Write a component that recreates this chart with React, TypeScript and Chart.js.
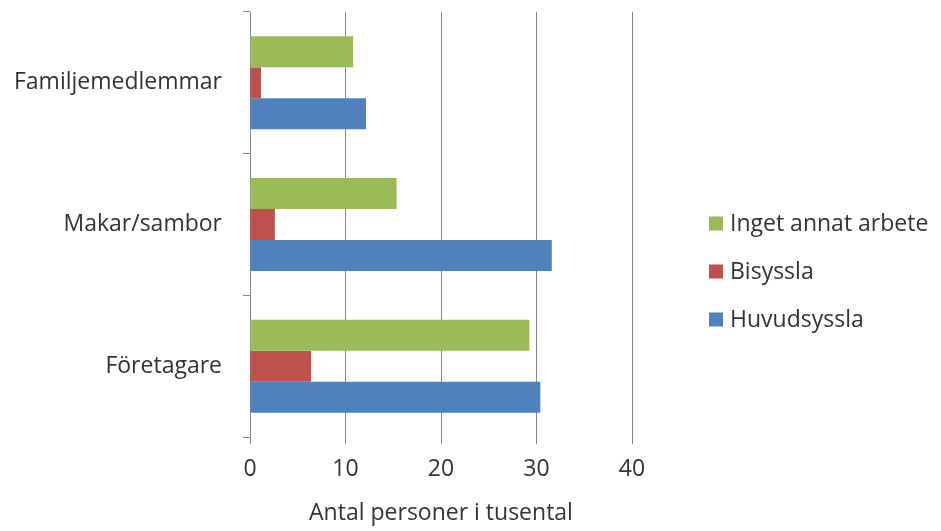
import { useEffect, useRef } from 'react';
import { Chart, registerables } from 'chart.js';

Chart.register(...registerables);

const categories = ['Familjemedlemmar', 'Makar/sambor', 'Företagare'];
const seriesNames = ['Inget annat arbete', 'Bisyssla', 'Huvudsyssla'];
const ingetAnnatArbete = [10.8, 15.35, 29.25];
const bisyssla = [1.15, 2.6, 6.4];
const huvudsyssla = [12.15, 31.6, 30.4];
const seriesColors = ['#9BBB59', '#C0504D', '#4F81BD'];
const xTicks = [0, 10, 20, 30, 40];
const xTitle = 'Antal personer i tusental';

const FONT = '"Open Sans", sans-serif';
const FS = 23;
const TEXT = '#333333';
const GRID = '#868686';

const legendPlugin = {
  id: 'sideLegend',
  afterDraw(chart: any) {
    const { ctx, chartArea } = chart;
    const boxX = chartArea.right + 77;
    const centerY = chart.height / 2 + 6;
    ctx.save();
    chart.data.datasets.forEach((ds: any, i: number) => {
      const y = centerY + (i - 1) * 48;
      ctx.fillStyle = ds.backgroundColor;
      ctx.fillRect(boxX, y - 7, 14, 14);
      ctx.fillStyle = TEXT;
      ctx.font = `${FS}px ${FONT}`;
      ctx.textBaseline = 'middle';
      ctx.textAlign = 'left';
      ctx.fillText(ds.label, boxX + 21, y + 1);
    });
    ctx.restore();
  },
};

export default function App() {
  const ref = useRef<HTMLCanvasElement>(null);
  useEffect(() => {
    document.body.style.margin = '0';
    const values = [ingetAnnatArbete, bisyssla, huvudsyssla];
    const chart = new Chart(ref.current!, {
      type: 'bar',
      data: {
        labels: categories,
        datasets: values.map((v, i) => ({
          label: seriesNames[i],
          data: v,
          backgroundColor: seriesColors[i],
          borderWidth: 0,
          categoryPercentage: 0.656,
          barPercentage: 1,
        })),
      },
      options: {
        indexAxis: 'y',
        responsive: false,
        animation: false,
        layout: { padding: { top: 12, right: 309, bottom: 4, left: 0 } },
        plugins: {
          legend: { display: false },
          tooltip: { enabled: false },
        },
        scales: {
          x: {
            min: xTicks[0],
            max: xTicks[xTicks.length - 1],
            afterBuildTicks: (s: any) => {
              s.ticks = xTicks.map((v) => ({ value: v }));
            },
            ticks: { font: { family: FONT, size: FS }, color: TEXT, padding: 12 },
            grid: { color: GRID, lineWidth: 1, tickLength: 7, drawTicks: true },
            border: { display: false },
            title: {
              display: true,
              text: xTitle,
              font: { family: FONT, size: FS },
              color: TEXT,
              padding: { top: 0, bottom: 0 },
            },
            afterFit: (s: any) => {
              s.height = 90;
              s.paddingLeft = 0;
              s.paddingRight = 0;
            },
          },
          y: {
            grid: {
              drawOnChartArea: false,
              drawTicks: true,
              tickLength: 7,
              color: GRID,
              offset: true,
            },
            border: { display: true, color: GRID, width: 1 },
            ticks: { font: { family: FONT, size: FS }, color: TEXT, padding: 21 },
            afterFit: (s: any) => {
              s.width = 250;
              s.paddingTop = 0;
              s.paddingBottom = 0;
            },
          },
        },
      },
      plugins: [legendPlugin],
    } as any);
    return () => chart.destroy();
  }, []);
  return (
    <div style={{ width: 941, height: 531 }}>
      <canvas ref={ref} width={941} height={531} />
    </div>
  );
}
